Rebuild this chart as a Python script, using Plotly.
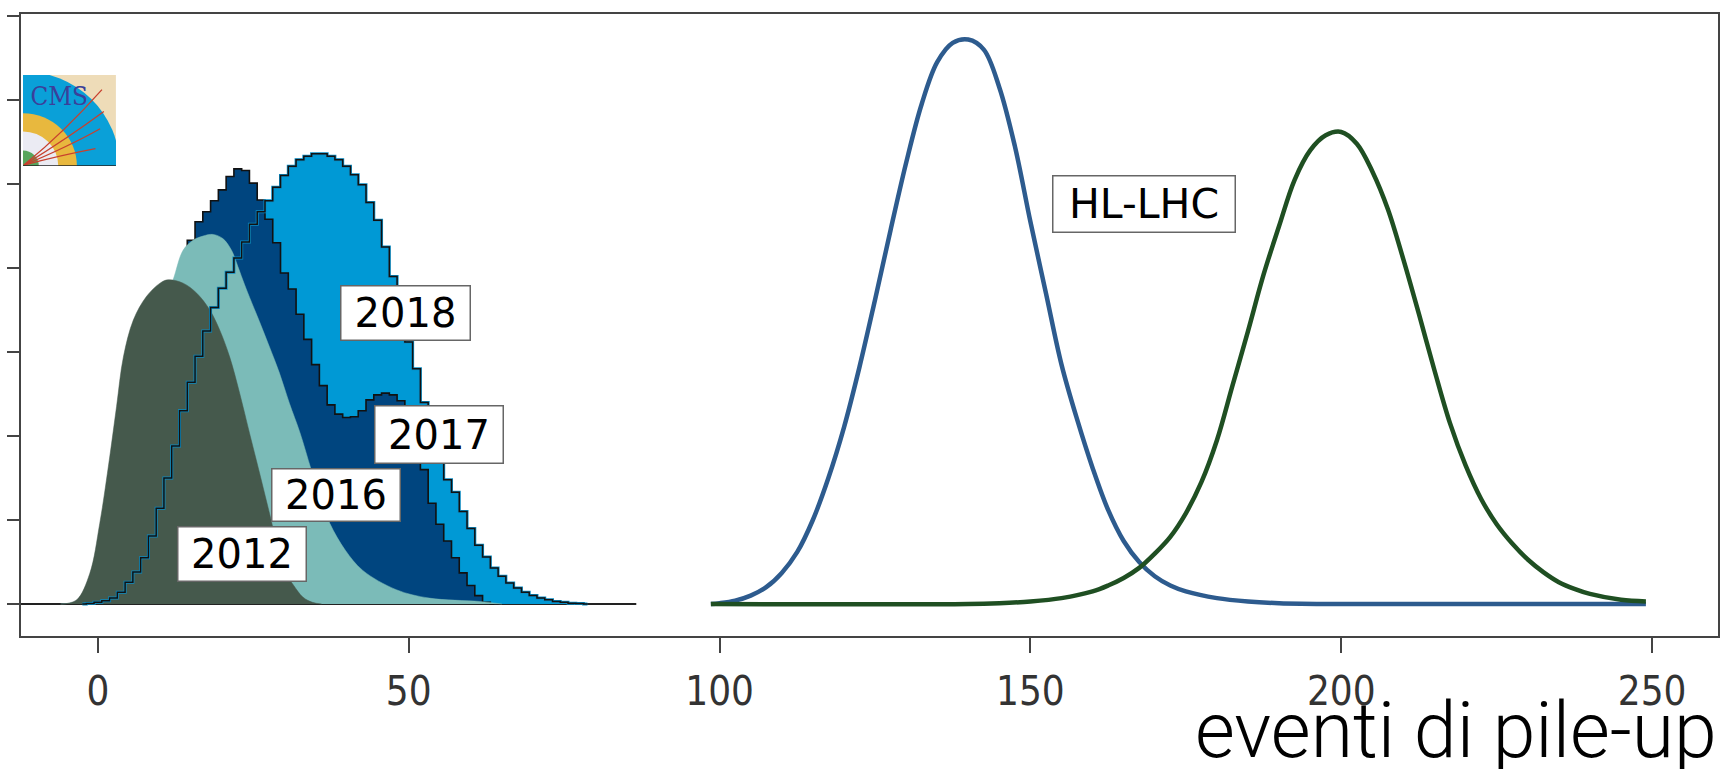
import base64
import numpy as np
import plotly.graph_objects as go

# ---------------- data ----------------
bin_width = 1.25
bin_start = -2.5

# 2018 pile-up histogram (light blue, step)
vals_2018 = [0.0, 0.005, 0.02, 0.04, 0.07, 0.14, 0.26, 0.38, 0.55, 0.81,
             1.14, 1.50, 1.88, 2.30, 2.64, 2.95, 3.25, 3.53, 3.76, 3.95,
             4.12, 4.31, 4.52, 4.67, 4.80, 4.96, 5.10, 5.21, 5.29, 5.33,
             5.36, 5.36, 5.33, 5.29, 5.21, 5.11, 4.99, 4.78, 4.57, 4.25,
             3.90, 3.50, 3.12, 2.80, 2.40, 2.10, 1.75, 1.48, 1.33, 1.10,
             0.90, 0.70, 0.56, 0.43, 0.33, 0.25, 0.19, 0.14, 0.10, 0.07,
             0.05, 0.03, 0.02, 0.01, 0.005, 0.0]

# 2017 pile-up histogram (dark blue, step)
vals_2017 = [0.0, 0.01, 0.05, 0.12, 0.25, 0.45, 0.75, 1.1, 1.5, 1.95,
             2.45, 2.95, 3.45, 3.95, 4.33, 4.55, 4.67, 4.80, 4.93, 5.09,
             5.18, 5.16, 5.01, 4.81, 4.58, 4.30, 3.94, 3.75, 3.45, 3.15,
             2.85, 2.60, 2.37, 2.26, 2.22, 2.23, 2.30, 2.43, 2.49, 2.51,
             2.49, 2.42, 2.25, 1.95, 1.60, 1.20, 0.95, 0.75, 0.55, 0.37,
             0.22, 0.10, 0.02, 0.0]

# 2016 pile-up (teal, smooth)
x_2016 = [-6, -4, -2, 0, 2, 4, 6, 8, 10, 12.1, 13.7, 15.3, 16.9, 18.5, 20.1,
          21.5, 22.5, 23.6, 24.4, 26.0, 27.6, 29.2, 30.8, 32.5, 34.3, 35.7,
          37.3, 39.8, 42.6, 48.0, 53.3, 61.4, 65.0]
y_2016 = [0, 0.02, 0.12, 0.45, 1.0, 1.7, 2.35, 2.95, 3.45, 3.86, 4.21, 4.33,
          4.38, 4.40, 4.35, 4.21, 4.02, 3.80, 3.65, 3.36, 3.06, 2.75, 2.39,
          2.04, 1.60, 1.27, 0.96, 0.64, 0.40, 0.17, 0.07, 0.03, 0.0]

# 2012 pile-up (dark grey-green, smooth)
x_2012 = [-6.0, -5.6, -3.4, -1.3, 0.3, 1.9, 3.0, 4.1, 5.7, 7.8, 10.0, 11.3,
          13.7, 15.9, 18.0, 19.6, 21.2, 22.8, 24.4, 26.0, 27.6, 29.2, 30.8,
          31.5, 33.0, 34.5, 36.0]
y_2012 = [0, 0.0, 0.05, 0.365, 0.96, 1.75, 2.35, 2.94, 3.38, 3.66, 3.82, 3.86,
          3.82, 3.70, 3.50, 3.26, 2.94, 2.51, 2.03, 1.56, 1.08, 0.60, 0.30,
          0.22, 0.08, 0.02, 0.0]

# HL-LHC expectations
x_hl_140 = [98.6, 100, 102.5, 105, 107.5, 110, 112.5, 115, 117.5, 120, 122.5, 125,
            127.5, 130, 132.5, 135, 137.5, 140, 142.5, 145, 147.5, 150, 152.5,
            155, 157.5, 160, 162.5, 165, 167.5, 170, 172.5, 175, 180, 185, 190,
            200, 249]
y_hl_140 = [0.0, 0.01, 0.04, 0.1, 0.2, 0.37, 0.62, 1.0, 1.5, 2.1, 2.82, 3.62,
            4.45, 5.25, 5.95, 6.45, 6.68, 6.72, 6.6, 6.15, 5.45, 4.55, 3.7,
            2.85, 2.2, 1.62, 1.12, 0.75, 0.5, 0.33, 0.22, 0.15, 0.07, 0.03,
            0.01, 0.0, 0.0]

x_hl_200 = [98.6, 140, 145, 150, 155, 160, 162.5, 165, 167.5, 170, 172.5, 175,
            177.5, 180, 182.5, 185, 187.5, 190, 192.5, 195, 197.5, 200, 202.5,
            205, 207.5, 210, 212.5, 215, 217.5, 220, 222.5, 225, 227.5, 230,
            232.5, 235, 237.5, 240, 245, 249]
y_hl_200 = [0.0, 0.0, 0.01, 0.03, 0.07, 0.15, 0.22, 0.31, 0.43, 0.6, 0.8, 1.08,
            1.45, 1.95, 2.6, 3.25, 3.92, 4.5, 5.05, 5.4, 5.58, 5.62, 5.48,
            5.15, 4.7, 4.1, 3.45, 2.78, 2.15, 1.65, 1.25, 0.95, 0.72, 0.53,
            0.38, 0.26, 0.18, 0.12, 0.05, 0.03]

baseline_x = [-12.4, 86.6]
baseline_y = [0, 0]

x_ticks = [0, 50, 100, 150, 200, 250]
x_ticklabels = ["0", "50", "100", "150", "200", "250"]
y_ticks = [0, 1, 2, 3, 4, 5, 6, 7]

year_labels = ["2018", "2017", "2016", "2012"]
hl_label = "HL-LHC"
x_title = "eventi di pile-up"

# ---------------- figure ----------------
c2018 = np.array(vals_2018)
c2017 = np.array(vals_2017)
x2018 = bin_start + bin_width * np.arange(len(c2018))
x2017 = bin_start + bin_width * np.arange(len(c2017))

fig = go.Figure()

fig.add_trace(go.Scatter(x=baseline_x, y=baseline_y, mode="lines",
                         line=dict(color="#222222", width=2), hoverinfo="skip"))
# 2018 fill (behind)
fig.add_trace(go.Scatter(x=x2018, y=c2018, mode="lines", line_shape="hvh",
                         fill="tozeroy", fillcolor="#0099d5",
                         line=dict(color="#111111", width=1.6)))
# 2017 fill with outline
fig.add_trace(go.Scatter(x=x2017, y=c2017, mode="lines", line_shape="hvh",
                         fill="tozeroy", fillcolor="#00457f",
                         line=dict(color="#111111", width=1.6)))
# 2016
fig.add_trace(go.Scatter(x=x_2016, y=y_2016, mode="lines", line_shape="spline",
                         fill="tozeroy", fillcolor="#7bbbb8",
                         line=dict(color="#7bbbb8", width=0.5)))
# 2012
fig.add_trace(go.Scatter(x=x_2012, y=y_2012, mode="lines", line_shape="spline",
                         fill="tozeroy", fillcolor="#45594c",
                         line=dict(color="#45594c", width=0.5)))
# 2018 outline on top
fig.add_trace(go.Scatter(x=x2018, y=c2018, mode="lines", line_shape="hvh",
                         line=dict(color="#0a8cc4", width=3.0)))
fig.add_trace(go.Scatter(x=x2018, y=c2018, mode="lines", line_shape="hvh",
                         line=dict(color="#111111", width=1.5)))
# HL-LHC
fig.add_trace(go.Scatter(x=x_hl_140, y=y_hl_140, mode="lines", line_shape="spline",
                         line=dict(color="#2d5b8e", width=4.5)))
fig.add_trace(go.Scatter(x=x_hl_200, y=y_hl_200, mode="lines", line_shape="spline",
                         line=dict(color="#1f4f22", width=4.5)))

label_font = dict(family="DejaVu Sans", size=40, color="#000000")
box_specs = [
    (year_labels[0], 49.4, 3.46, 128, 53),
    (year_labels[1], 54.8, 2.02, 127, 56),
    (year_labels[2], 38.3, 1.30, 127, 51),
    (year_labels[3], 23.2, 0.60, 127, 53),
]
annotations = []
for txt, ax_, ay_, w, h in box_specs:
    annotations.append(dict(x=ax_, y=ay_, xref="x", yref="y", text=txt,
                            showarrow=False, font=label_font, bgcolor="#ffffff",
                            bordercolor="#666666", borderwidth=1.5, borderpad=0,
                            width=w, height=h, align="center", valign="middle"))
annotations.append(dict(x=168.3, y=4.76, xref="x", yref="y", text=hl_label,
                        showarrow=False,
                        font=dict(family="DejaVu Sans", size=41, color="#000000"),
                        bgcolor="#ffffff", bordercolor="#666666", borderwidth=1.5,
                        borderpad=0, width=181, height=55, align="center",
                        valign="middle"))
annotations.append(dict(x=1.0 + 1 / 1699, y=0, xref="paper", yref="paper",
                        xanchor="right", yanchor="middle", yshift=-95,
                        text=x_title, showarrow=False,
                        font=dict(family="Roboto Light, Roboto", size=77,
                                  color="#000000", weight=300)))

logo_svg = """<svg xmlns="http://www.w3.org/2000/svg" width="100" height="100" viewBox="0 0 100 100">
<rect width="100" height="100" fill="#eedcb8"/>
<circle cx="0" cy="100" r="104" fill="#0aa0d8"/>
<circle cx="0" cy="100" r="58" fill="#e8b83e"/>
<circle cx="0" cy="100" r="38" fill="#ebebf3"/>
<circle cx="0" cy="100" r="17" fill="#58a55c"/>
<text x="8" y="33" font-family="DejaVu Serif, serif" font-size="29" textLength="62" lengthAdjust="spacingAndGlyphs" fill="#3b3f9a">CMS</text>
<g fill="none" stroke="#c8402e" stroke-width="1.4">
<path d="M1,99 Q45,62 85,16"/>
<path d="M1,99 Q50,68 87,40"/>
<path d="M1,99 Q50,78 83,59"/>
<path d="M1,99 Q42,88 78,81"/>
</g>
<path d="M0,100 L100,100" stroke="#222" stroke-width="1.5"/>
</svg>"""
logo_uri = "data:image/svg+xml;base64," + base64.b64encode(logo_svg.encode()).decode()

fig.update_layout(
    width=1722, height=769,
    margin=dict(l=21, r=2, t=14, b=133),
    paper_bgcolor="#ffffff", plot_bgcolor="#ffffff",
    showlegend=False,
    annotations=annotations,
    images=[dict(source=logo_uri, xref="paper", yref="paper",
                 x=2 / 1699, y=(636 - 75) / 622, sizex=93 / 1699, sizey=91 / 622,
                 xanchor="left", yanchor="top", sizing="stretch", layer="above")],
    xaxis=dict(range=[-12.37, 260.6], tickvals=x_ticks, ticktext=x_ticklabels,
               ticks="outside", ticklen=15, tickwidth=2, tickcolor="#444444",
               showline=True, mirror=True, linecolor="#444444", linewidth=2,
               showgrid=False, zeroline=False, ticklabelstandoff=4,
               tickfont=dict(family="DejaVu Sans Condensed, DejaVu Sans", size=40,
                             color="#333333")),
    yaxis=dict(range=[-0.381, 7.024], tickvals=y_ticks, showticklabels=False,
               ticks="outside", ticklen=12, tickwidth=2, tickcolor="#444444",
               showline=True, mirror=True, linecolor="#444444", linewidth=2,
               showgrid=False, zeroline=False),
)

fig.write_html(
    "out.html",
    config={"displayModeBar": False},
    post_script="document.body.style.margin='0';document.body.style.padding='0';"
                "document.documentElement.style.overflow='hidden';",
)
